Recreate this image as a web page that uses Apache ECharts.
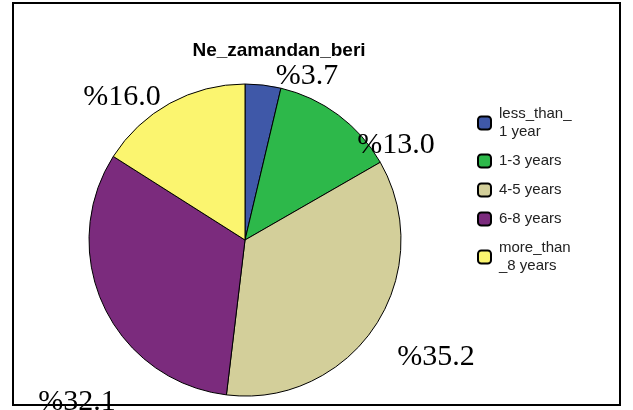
<!DOCTYPE html>
<html>
<head>
<meta charset="utf-8">
<script src="https://cdn.jsdelivr.net/npm/echarts@6/dist/echarts.min.js"></script>
<style>
  html, body { margin: 0; padding: 0; background: #fff; }
  #main { width: 633px; height: 410px; }
</style>
</head>
<body>
<div id="main"></div>
<script>
const categories = ["less_than_\n1 year", "1-3 years", "4-5 years", "6-8 years", "more_than\n_8 years"];
const values = [3.7, 13.0, 35.2, 32.1, 16.0];
const colors = ["#3f58a8", "#2db84a", "#d3cf9a", "#7b2b7d", "#fbf56f"];
// where each percentage label sits
const labelPos = [[307, 76], [396, 145], [436, 357], [77, 402], [122, 97]];

const myChart = echarts.init(document.getElementById("main"));
myChart.setOption({
  animation: false,
  title: {
    text: "Ne_zamandan_beri",
    left: 274,
    top: 36,
    textAlign: "center",
    textStyle: { fontFamily: "Liberation Sans", fontSize: 19, fontWeight: "bold", color: "#000" }
  },
  legend: {
    orient: "vertical",
    left: 472,
    top: 100,
    itemWidth: 13,
    itemHeight: 13,
    itemGap: 11,
    icon: "roundRect",
    textStyle: { fontFamily: "Liberation Sans", fontSize: 15, color: "#222", lineHeight: 18, padding: [0, 0, 0, 3] },
    itemStyle: { borderColor: "#000", borderWidth: 2 }
  },
  graphic: [{
    type: "rect",
    shape: { x: 13, y: 3, width: 607, height: 402 },
    style: { fill: "none", stroke: "#000", lineWidth: 2 },
    z: 100
  }],
  series: [{
    type: "pie",
    center: [245, 240],
    radius: 156,
    startAngle: 90,
    clockwise: true,
    data: categories.map((c, i) => ({ name: c, value: values[i], itemStyle: { color: colors[i] } })),
    itemStyle: { borderColor: "#000", borderWidth: 1 },
    label: {
      show: true,
      position: "outside",
      alignTo: "none",
      overflow: "none",
      width: 200,
      formatter: p => "%" + p.value.toFixed(1),
      fontFamily: "Liberation Serif",
      fontSize: 30,
      color: "#000"
    },
    labelLine: { show: false },
    labelLayout: p => ({ x: labelPos[p.dataIndex][0], y: labelPos[p.dataIndex][1], align: "center", verticalAlign: "middle" })
  }]
});
</script>
</body>
</html>
